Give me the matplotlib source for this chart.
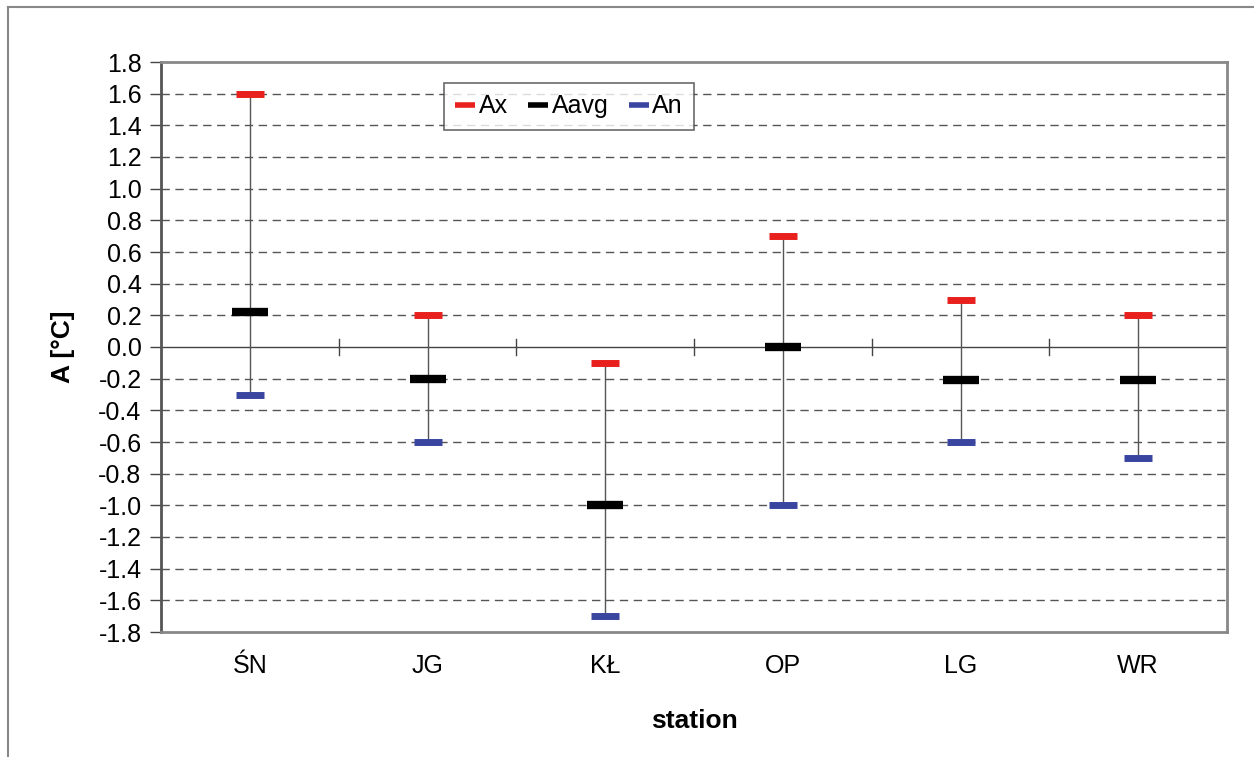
import matplotlib.pyplot as plt
import numpy as np

plt.rcParams['font.family'] = ['Liberation Sans', 'DejaVu Sans']

stations = ['ŚN', 'JG', 'KŁ', 'OP', 'LG', 'WR']
a_max = [1.6, 0.2, -0.1, 0.7, 0.3, 0.2]
a_avg = [0.22, -0.2, -1.0, 0.0, -0.21, -0.21]
a_min = [-0.3, -0.6, -1.7, -1.0, -0.6, -0.7]

x = np.arange(len(stations))

fig = plt.figure(figsize=(12.54, 7.57), dpi=100)
ax = fig.add_axes([161/1254, 1 - 632/757, (1227-161)/1254, (632-62)/757])

# outer frame (left and top only visible)
fig.add_artist(plt.Line2D([8/1254, 8/1254], [0, 1 - 7/757], color='#888888', lw=1.5))
fig.add_artist(plt.Line2D([8/1254, 1], [1 - 7/757, 1 - 7/757], color='#888888', lw=1.5))

# grid
yt = np.round(np.arange(-1.8, 1.81, 0.2), 1)
for y in yt:
    if abs(y) < 1e-9 or abs(abs(y) - 1.8) < 1e-9:
        continue
    ax.axhline(y, color='#555555', lw=1, ls=(0, (6, 4)), zorder=0)
ax.axhline(0, color='#444444', lw=1, zorder=1)
# category separators on zero line
for b in np.arange(0.5, len(stations), 1.0):
    ax.plot([b, b], [-0.05, 0.05], color='#444444', lw=1, zorder=1)

ax.vlines(x, a_min, a_max, color='#555555', lw=1, zorder=2)
ax.plot(x, a_max, ls='none', marker='_', ms=20, mew=5, color='#e8211e', label='Ax', zorder=3)
ax.plot(x, a_avg, ls='none', marker='_', ms=26, mew=6, color='black', label='Aavg', zorder=3)
ax.plot(x, a_min, ls='none', marker='_', ms=20, mew=5, color='#3a45a0', label='An', zorder=3)

ax.set_xlim(-0.5, len(stations) - 0.5)
ax.set_ylim(-1.8, 1.8)
ax.set_yticks(yt)
ax.set_yticklabels([f'{v + 0.0:.1f}'.replace('-0.0', '0.0') for v in yt], fontsize=18)
ax.set_xticks(x)
ax.set_xticklabels(stations, fontsize=18)
ax.tick_params(axis='x', length=0, pad=16)
ax.tick_params(axis='y', length=8, width=1, color='#444444', direction='out', pad=6)

for s in ['top', 'right', 'bottom']:
    ax.spines[s].set_color('#888888')
    ax.spines[s].set_linewidth(2)
ax.spines['left'].set_color('#555555')
ax.spines['left'].set_linewidth(2)

ax.set_ylabel('A [°C]', fontsize=19, fontweight='bold', labelpad=17)
ax.set_xlabel('station', fontsize=19, fontweight='bold', labelpad=22)

leg = ax.legend(loc='upper left', bbox_to_anchor=((444-161)/1066, 1 - (83-62)/570),
                ncol=3, fontsize=18, frameon=True, fancybox=False, edgecolor='#444444',
                handlelength=0.8, handletextpad=0.15, columnspacing=0.8, borderpad=0.45,
                borderaxespad=0)
leg.get_frame().set_linewidth(1.2)
for h in leg.legend_handles:
    h.set_markersize(14)
    h.set_markeredgewidth(4)

fig.savefig('out.png', dpi=100)
